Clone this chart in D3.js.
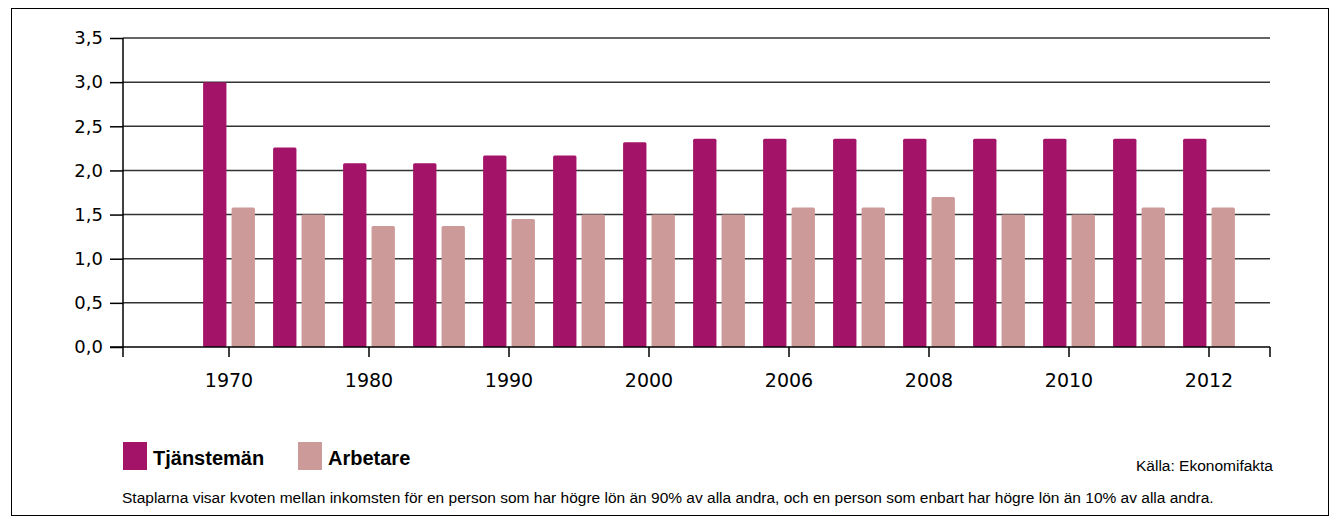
<!DOCTYPE html>
<html>
<head>
<meta charset="utf-8">
<script src="https://cdn.jsdelivr.net/npm/d3@7"></script>
<style>
  body { margin: 0; background: #fff; }
  svg { font-family: "Liberation Sans", Arial, sans-serif; }
  .grid line { stroke: #333; stroke-width: 1.5; }
  .axis path, .axis line { stroke: #000; stroke-width: 1.5; }
  .tick-label { font-family: "DejaVu Sans", sans-serif; }
</style>
</head>
<body>
<svg width="1330" height="520"></svg>
<script>
// data
var years = ["1970", "1975", "1980", "1985", "1990", "1995", "2000", "2005",
             "2006", "2007", "2008", "2009", "2010", "2011", "2012"];
var tickYears = ["1970", "1980", "1990", "2000", "2006", "2008", "2010", "2012"];
var tjanstemanValues = [3.0, 2.26, 2.08, 2.08, 2.17, 2.17, 2.32, 2.36,
                        2.36, 2.36, 2.36, 2.36, 2.36, 2.36, 2.36];
var arbetareValues = [1.58, 1.5, 1.37, 1.37, 1.45, 1.5, 1.5, 1.5,
                      1.58, 1.58, 1.7, 1.5, 1.5, 1.58, 1.58];
var seriesNames = ["Tjänstemän", "Arbetare"];
var yTicks = [0, 0.5, 1, 1.5, 2, 2.5, 3, 3.5];

var colors = {"Tjänstemän": "#a31367", "Arbetare": "#cc9a99"};

var svg = d3.select("svg");
var sv = d3.formatLocale({decimal: ",", thousands: " ", grouping: [3], currency: ["", " kr"]});
var fmt = sv.format(".1f");

// frame
svg.append("rect")
    .attr("x", 11.5).attr("y", 8.5)
    .attr("width", 1317).attr("height", 507)
    .attr("fill", "none").attr("stroke", "#000").attr("stroke-width", 1);

var axisLeft = 123, axisRight = 1270;

var y = d3.scaleLinear()
    .domain([0, 3.5])
    .range([347, 38]);

var x0 = d3.scaleBand()
    .domain(years)
    .range([194, 1244])
    .paddingInner(0.26)
    .paddingOuter(0.13);

var x1 = d3.scaleBand()
    .domain(seriesNames)
    .range([0, x0.bandwidth()])
    .paddingInner(0.18);

// gridlines
svg.append("g")
    .attr("class", "grid")
    .selectAll("line")
    .data(yTicks.filter(function (d) { return d > 0; }))
    .enter()
    .append("line")
    .attr("x1", axisLeft)
    .attr("x2", axisRight)
    .attr("y1", function (d) { return y(d); })
    .attr("y2", function (d) { return y(d); });

// bars
var rows = years.map(function (yr, i) {
    return {year: yr, values: [
        {key: "Tjänstemän", value: tjanstemanValues[i]},
        {key: "Arbetare", value: arbetareValues[i]}
    ]};
});

svg.append("g")
    .selectAll("g")
    .data(rows)
    .enter()
    .append("g")
    .attr("transform", function (d) { return "translate(" + x0(d.year) + ",0)"; })
    .selectAll("rect")
    .data(function (d) { return d.values; })
    .enter()
    .append("rect")
    .attr("x", function (d) { return x1(d.key); })
    .attr("width", x1.bandwidth())
    .attr("y", function (d) { return y(d.value); })
    .attr("height", function (d) { return y(0) - y(d.value); })
    .attr("rx", 1.5)
    .attr("fill", function (d) { return colors[d.key]; });

// y axis
var yAxis = svg.append("g")
    .attr("class", "axis")
    .attr("transform", "translate(" + axisLeft + ",0)")
    .call(d3.axisLeft(y).tickValues(yTicks).tickFormat(fmt).tickSize(13).tickSizeOuter(0));
yAxis.select(".domain").remove();
yAxis.append("line")
    .attr("x1", 0).attr("x2", 0)
    .attr("y1", y(3.5)).attr("y2", y(0) + 10)
    .attr("stroke", "#000").attr("stroke-width", 1.5);
yAxis.selectAll("text")
    .attr("class", "tick-label")
    .attr("x", -20)
    .attr("fill", "#000")
    .style("font-size", "18px");

// x axis
var xAxis = svg.append("g")
    .attr("class", "axis")
    .attr("transform", "translate(0," + y(0) + ")");
xAxis.append("line")
    .attr("x1", axisLeft - 13).attr("x2", axisRight)
    .attr("y1", 0).attr("y2", 0);
var xTicks = xAxis.selectAll(".xtick")
    .data(tickYears)
    .enter()
    .append("g")
    .attr("class", "xtick")
    .attr("transform", function (d) { return "translate(" + (x0(d) + x0.bandwidth() / 2) + ",0)"; });
xTicks.append("line").attr("y1", 0).attr("y2", 10);
xTicks.append("text")
    .attr("class", "tick-label")
    .attr("y", 40)
    .attr("text-anchor", "middle")
    .style("font-size", "19px")
    .text(function (d) { return d; });
xAxis.append("line").attr("x1", axisRight).attr("x2", axisRight).attr("y1", 0).attr("y2", 10);

// legend
var legend = svg.append("g").attr("transform", "translate(123,442)");
var items = legend.selectAll("g")
    .data(seriesNames)
    .enter()
    .append("g")
    .attr("transform", function (d, i) { return "translate(" + (i * 175) + ",0)"; });
items.append("rect")
    .attr("width", 24).attr("height", 28)
    .attr("fill", function (d) { return colors[d]; });
items.append("text")
    .attr("x", 30).attr("y", 23)
    .style("font-size", "20px")
    .style("font-weight", "bold")
    .text(function (d) { return d; });

svg.append("text")
    .attr("x", 1273).attr("y", 471)
    .attr("text-anchor", "end")
    .style("font-size", "15.5px")
    .text("Källa: Ekonomifakta");

svg.append("text")
    .attr("x", 122).attr("y", 503)
    .style("font-size", "15.5px")
    .text("Staplarna visar kvoten mellan inkomsten för en person som har högre lön än 90% av alla andra, och en person som enbart har högre lön än 10% av alla andra.");
</script>
</body>
</html>
